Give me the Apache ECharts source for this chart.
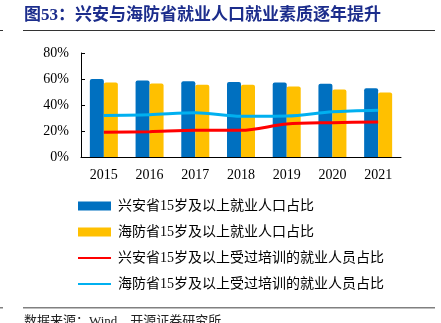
<!DOCTYPE html>
<html><head><meta charset="utf-8">
<script src="https://cdn.jsdelivr.net/npm/echarts@6/dist/echarts.min.js"></script>
<style>html,body{margin:0;padding:0;background:#fff;}#c{width:441px;height:323px;}</style>
</head><body><div id="c"></div>
<script>
const years = ['2015','2016','2017','2018','2019','2020','2021'];
const xinganEmployed = [60.0, 58.9, 58.2, 57.7, 57.4, 56.4, 52.8];
const haiphongEmployed = [57.4, 56.6, 55.6, 55.6, 54.3, 52.0, 49.7];
const xinganTrained = [19.0, 19.5, 20.5, 20.5, 25.4, 26.4, 26.9];
const haiphongTrained = [32.0, 32.5, 34.0, 31.3, 31.5, 34.8, 36.0];
const yTicks = [0, 20, 40, 60, 80];
const seriesNames = ['兴安省15岁及以上就业人口占比','海防省15岁及以上就业人口占比','兴安省15岁及以上受过培训的就业人员占比','海防省15岁及以上受过培训的就业人员占比'];
const titleText = '图53：兴安与海防省就业人口就业素质逐年提升';
const sourceText = '数据来源：Wind，开源证券研究所';

const serif = '"Liberation Serif","Noto Sans CJK SC",serif';
const chart = echarts.init(document.getElementById('c'), null, {renderer:'canvas'});
chart.setOption({
  animation:false,
  backgroundColor:'#fff',
  grid:{left:81, right:40, top:53, bottom:166},
  graphic:[
    {type:'text', left:24, top:7, style:{text:titleText, font:'bold 17px "Liberation Serif","Noto Sans CJK SC",serif', fill:'#1C2D8C'}},
    {type:'rect', shape:{x:23,y:30,width:412,height:1}, style:{fill:'#333'}},
    {type:'rect', shape:{x:0,y:30,width:3,height:1}, style:{fill:'#333'}},
    {type:'rect', shape:{x:23,y:307,width:412,height:1.5}, style:{fill:'#808080'}},
    {type:'rect', shape:{x:0,y:307,width:3,height:1.5}, style:{fill:'#808080'}},
    {type:'text', left:24, top:315, style:{text:sourceText, font:'13px "Liberation Serif","Noto Sans CJK SC",serif', fill:'#222'}}
  ],
  legend:{
    orient:'vertical', left:72, top:193, itemWidth:33, itemHeight:9, itemGap:10,
    data:[
      {name:seriesNames[0], icon:'rect'},
      {name:seriesNames[1], icon:'rect'},
      {name:seriesNames[2], itemStyle:{opacity:0}},
      {name:seriesNames[3], itemStyle:{opacity:0}}
    ],
    textStyle:{fontFamily:serif, fontSize:14, color:'#000', lineHeight:16, padding:[0,0,0,2]}
  },
  xAxis:{
    type:'category', data:years,
    axisLine:{lineStyle:{color:'#000', width:1}},
    axisTick:{inside:true, length:4, lineStyle:{color:'#000'}},
    axisLabel:{fontFamily:serif, fontSize:14, color:'#000', margin:11}
  },
  yAxis:{
    type:'value', min:yTicks[0], max:yTicks[yTicks.length-1], interval:20,
    axisLine:{show:true, lineStyle:{color:'#000', width:1}},
    axisTick:{show:true, inside:true, length:4, lineStyle:{color:'#000'}},
    splitLine:{show:false},
    axisLabel:{formatter:'{value}%', fontFamily:serif, fontSize:14, color:'#000', margin:12}
  },
  series:[
    {name:seriesNames[0], type:'bar', data:xinganEmployed, barWidth:14, barGap:'0%', itemStyle:{color:'#0070C0', borderRadius:[2,2,0,0]}},
    {name:seriesNames[1], type:'bar', data:haiphongEmployed, barWidth:14, barGap:'0%', itemStyle:{color:'#FFC000', borderRadius:[2,2,0,0]}},
    {name:seriesNames[2], type:'line', data:xinganTrained, symbol:'none', smooth:0.3, lineStyle:{color:'#FF0000', width:3}, itemStyle:{color:'#FF0000'}},
    {name:seriesNames[3], type:'line', data:haiphongTrained, symbol:'none', smooth:0.3, lineStyle:{color:'#00B0F0', width:3}, itemStyle:{color:'#00B0F0'}}
  ]
});
</script></body></html>
